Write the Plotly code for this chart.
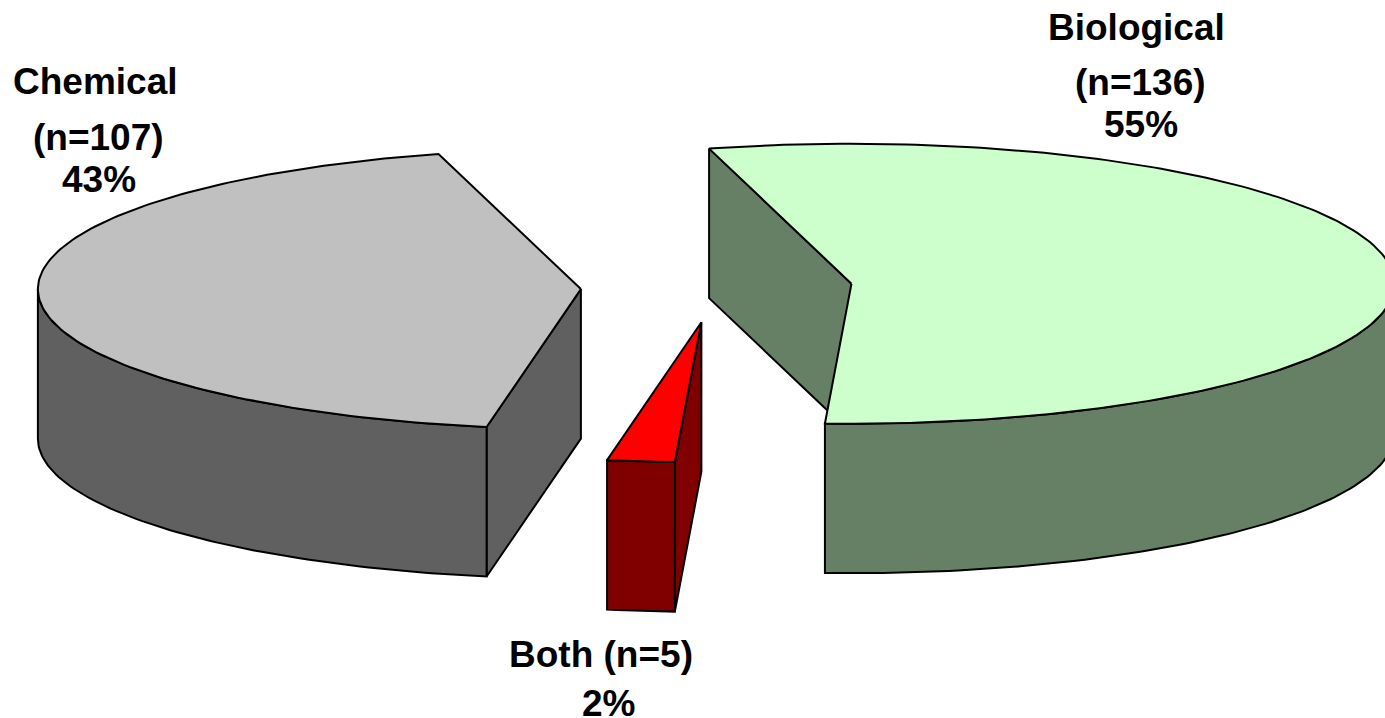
import math
import plotly.graph_objects as go

categories = ["Biological", "Both", "Chemical"]
counts = [136, 5, 107]
percents = [55, 2, 43]
top_colors = ["#CCFFCC", "#FF0000", "#C0C0C0"]
side_colors = ["#668066", "#800000", "#606060"]

W, H = 1385, 718
CX, CY = 716.5, 287.5
RX, RY = 543.0, 140.0
DEPTH = 149.5
EXPLODE = 0.25
START_DEG = -105.2
LINE = dict(color="black", width=2)
FONT = dict(family="Liberation Sans", size=37, color="black")


def arc(cx, cy, a0, a1, dy=0.0, step=1.0):
    n = max(2, int(abs(a1 - a0) / step) + 1)
    angs = [math.radians(a0 + (a1 - a0) * i / (n - 1)) for i in range(n)]
    return [cx + RX * math.cos(t) for t in angs], [cy + dy + RY * math.sin(t) for t in angs]


def poly(xs, ys, color):
    return go.Scatter(x=xs + xs[:1], y=ys + ys[:1], mode="lines", fill="toself",
                      fillcolor=color, line=LINE, hoverinfo="skip", showlegend=False)


total = sum(percents)
fig = go.Figure()
ang = START_DEG
for i, share in enumerate(percents):
    a0, a1 = ang, ang + 360.0 * share / total
    ang = a1
    mid = math.radians((a0 + a1) / 2)
    cx = CX + EXPLODE * RX * math.cos(mid)
    cy = CY + EXPLODE * RY * math.sin(mid)
    # start cut face
    sx = cx + RX * math.cos(math.radians(a0))
    sy = cy + RY * math.sin(math.radians(a0))
    fig.add_trace(poly([cx, sx, sx, cx], [cy, sy, sy + DEPTH, cy + DEPTH], side_colors[i]))
    # outer wall (front half only)
    w0, w1 = max(a0, 0.0), min(a1, 180.0)
    if w1 > w0:
        xt, yt = arc(cx, cy, w0, w1)
        xb, yb = arc(cx, cy, w0, w1, DEPTH)
        fig.add_trace(poly(xt + xb[::-1], yt + yb[::-1], side_colors[i]))
    # top face
    xt, yt = arc(cx, cy, a0, a1)
    fig.add_trace(poly([cx] + xt, [cy] + yt, top_colors[i]))

label_pos = [(1136, 27, 1140, 82, 1141, 124), (601, 654, None, None, 608, 703), (95, 81, 98, 137, 99, 179)]
for i, name in enumerate(categories):
    p = label_pos[i]
    pct = f"{percents[i]}%"
    if p[2] is None:
        lines = [(f"{name} (n={counts[i]})", p[0], p[1]), (pct, p[4], p[5])]
    else:
        lines = [(name, p[0], p[1]), (f"(n={counts[i]})", p[2], p[3]), (pct, p[4], p[5])]
    for text, x, y in lines:
        fig.add_annotation(x=x, y=y, text=f"<b>{text}</b>", showarrow=False, font=FONT,
                           xanchor="center", yanchor="middle")

fig.update_xaxes(range=[0, W], visible=False, fixedrange=True)
fig.update_yaxes(range=[H, 0], visible=False, fixedrange=True)
fig.update_layout(width=W, height=H, margin=dict(l=0, r=0, t=0, b=0), paper_bgcolor="white",
                  plot_bgcolor="white", showlegend=False)
fig.write_html("out.html", config=dict(displayModeBar=False),
               post_script="document.body.style.margin='0';document.body.style.overflow='hidden';")
